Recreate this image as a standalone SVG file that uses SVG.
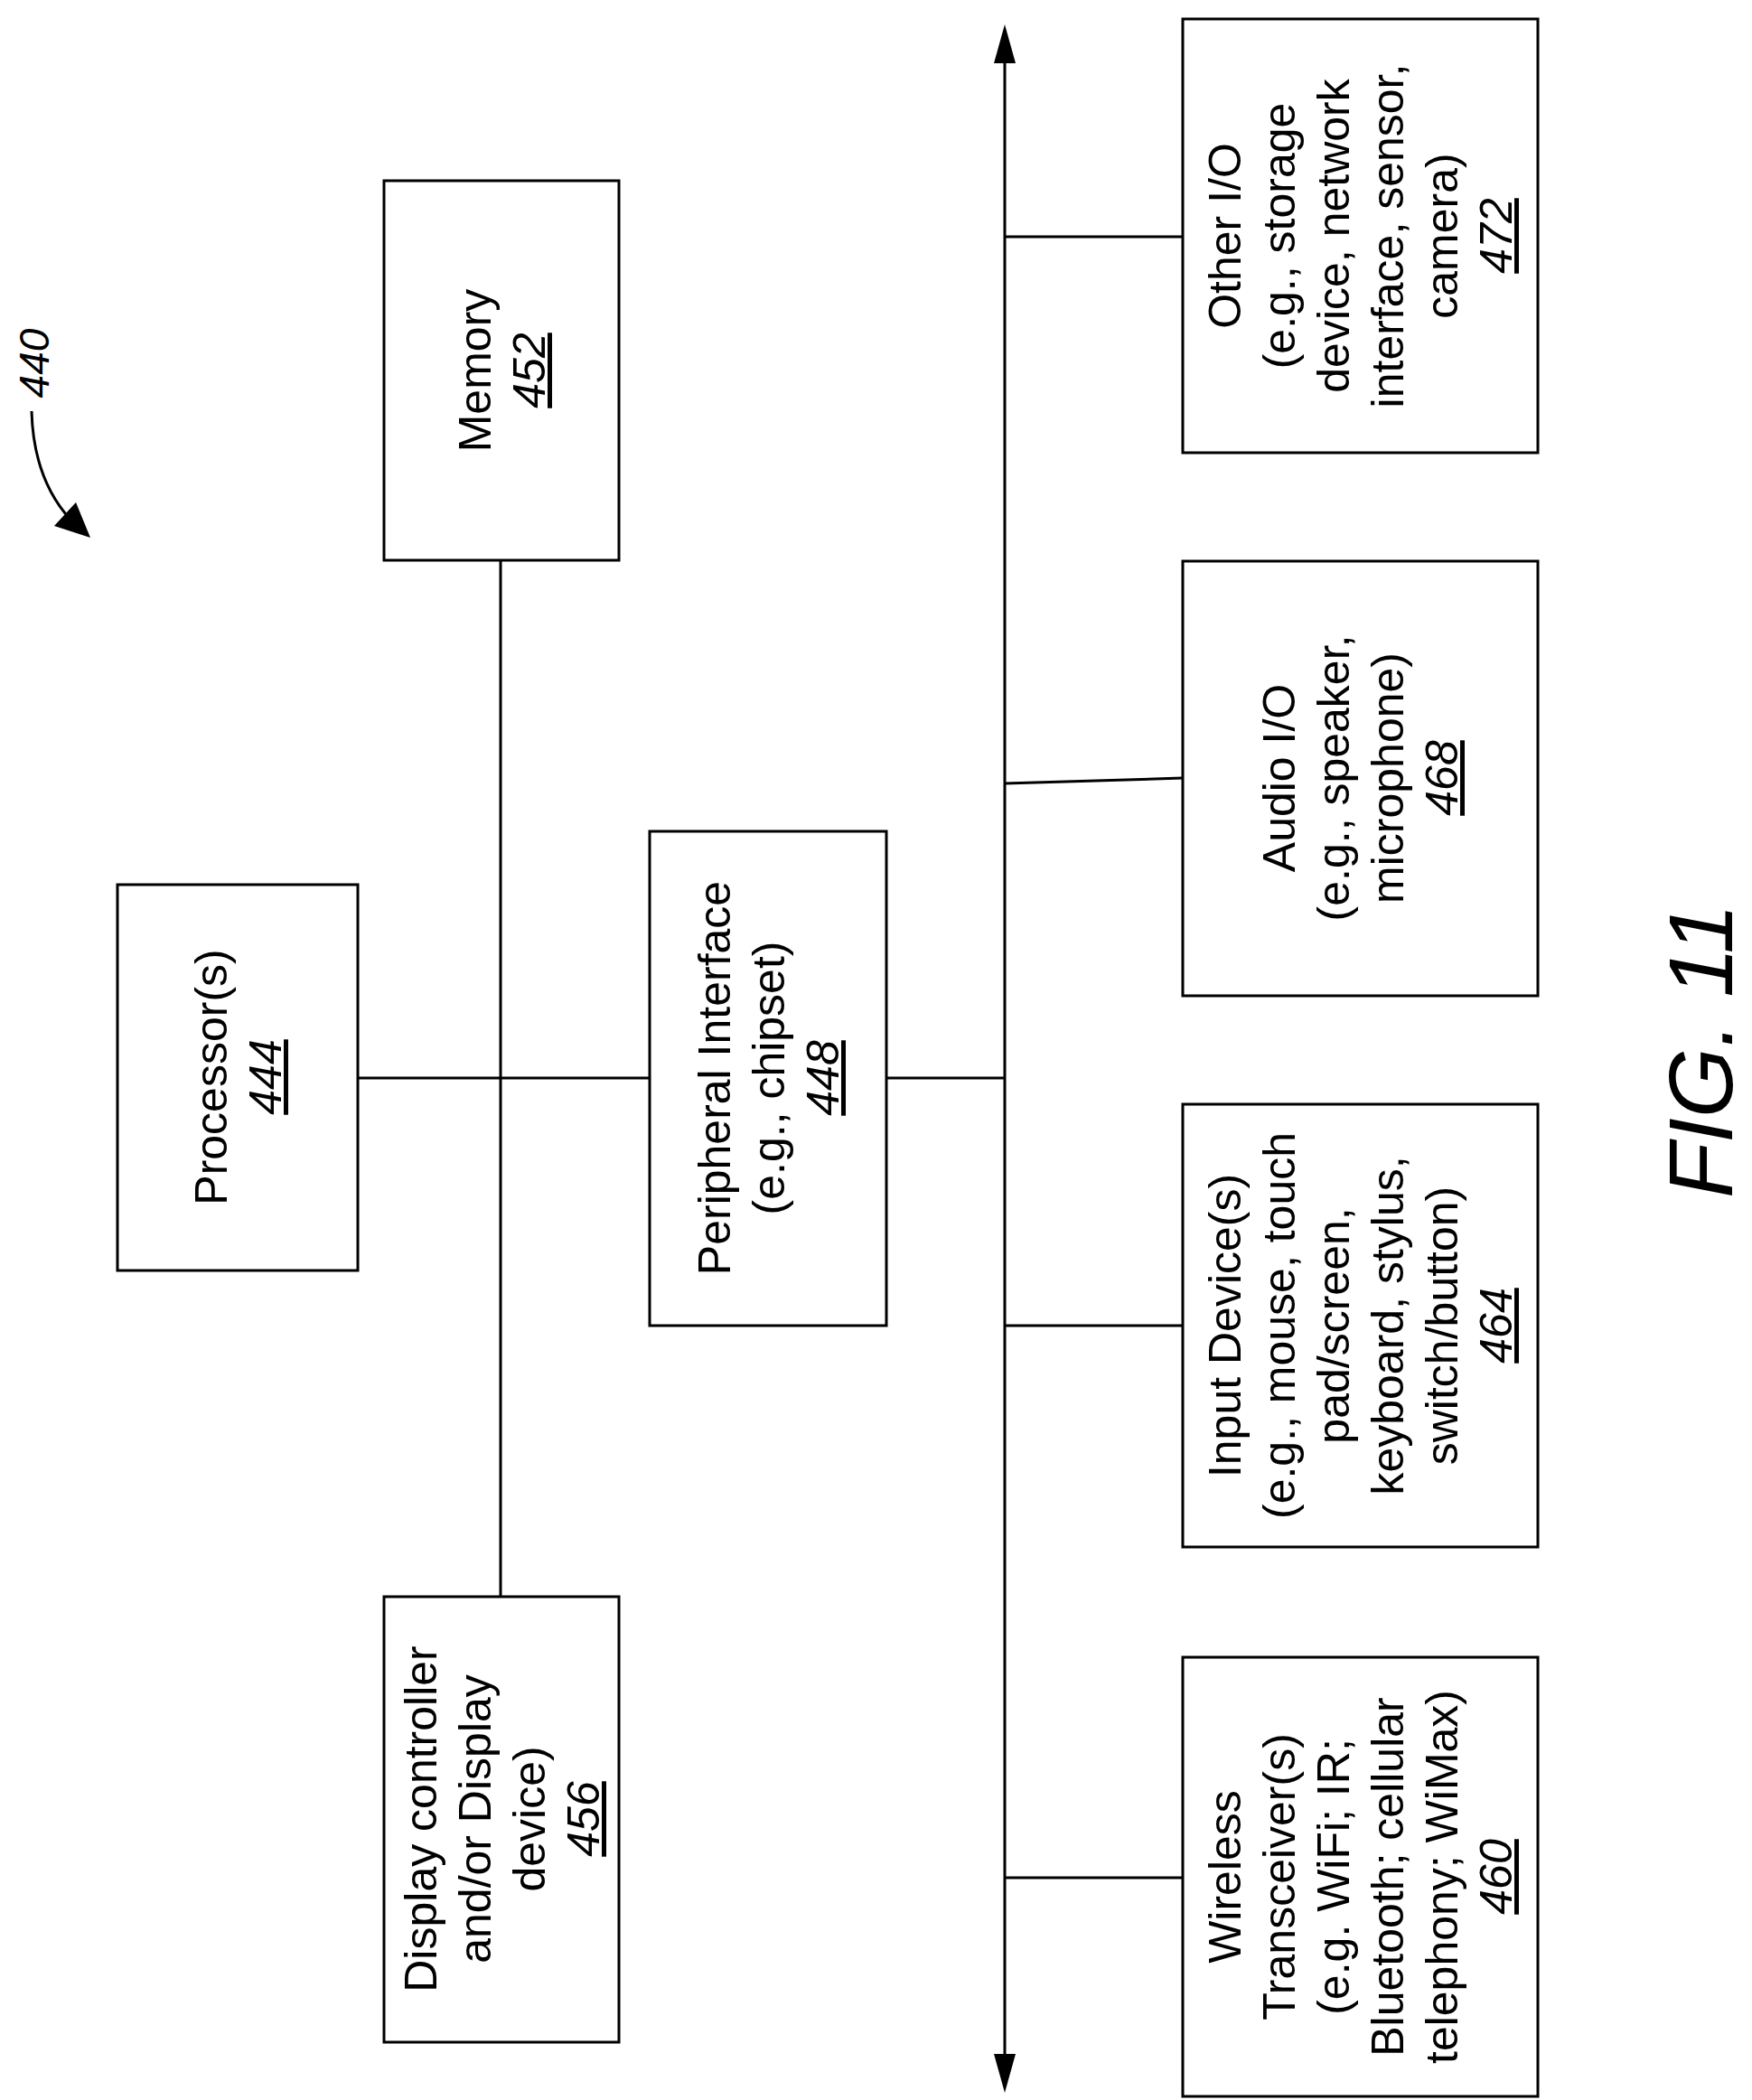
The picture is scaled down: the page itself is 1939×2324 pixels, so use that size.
<svg xmlns="http://www.w3.org/2000/svg" width="1939" height="2324" viewBox="0 0 1939 2324">
<style>
.box{fill:#fff;stroke:#000;stroke-width:3}
.ln{stroke:#000;stroke-width:3;fill:none}
.t{font-family:"Liberation Sans",Arial,sans-serif;font-size:50px;text-anchor:middle;fill:#000}
.n{font-style:italic;text-decoration:underline}
</style>
<rect width="1939" height="2324" fill="#fff"/>
<g id="connectors">
<line class="ln" x1="1112" y1="60" x2="1112" y2="2284"/>
<polygon points="1112,27 1100,70 1124,70" fill="#000"/>
<polygon points="1112,2316 1100,2273 1124,2273" fill="#000"/>
<line class="ln" x1="554" y1="620" x2="554" y2="1767"/>
<line class="ln" x1="396" y1="1193" x2="719" y2="1193"/>
<line class="ln" x1="981" y1="1193" x2="1112" y2="1193"/>
<line class="ln" x1="1112" y1="262" x2="1309" y2="262"/>
<line class="ln" x1="1112" y1="867" x2="1309" y2="861"/>
<line class="ln" x1="1112" y1="1467" x2="1309" y2="1467"/>
<line class="ln" x1="1112" y1="2078" x2="1309" y2="2078"/>
<path class="ln" d="M35,455 Q37,530 78,575"/>
<polygon points="100,595 60,582 84,556" fill="#000"/>
</g>
<g id="label440"><text class="t" style="font-style:italic;font-size:46px" transform="translate(54,402) rotate(-90)">440</text></g>
<g id="memory"><rect class="box" x="425" y="200" width="260" height="420"/>
<text class="t" transform="translate(555,410) rotate(-90)"><tspan x="0" y="-12">Memory</tspan><tspan class="n" x="0" dy="60">452</tspan></text></g>
<g id="processor"><rect class="box" x="130" y="979" width="266" height="427"/>
<text class="t" transform="translate(263,1192) rotate(-90)"><tspan x="0" y="-12">Processor(s)</tspan><tspan class="n" x="0" dy="60">444</tspan></text></g>
<g id="peripheral"><rect class="box" x="719" y="920" width="262" height="547"/>
<text class="t" transform="translate(850,1193) rotate(-90)"><tspan x="0" y="-42">Peripheral Interface</tspan><tspan x="0" dy="60">(e.g., chipset)</tspan><tspan class="n" x="0" dy="60">448</tspan></text></g>
<g id="display"><rect class="box" x="425" y="1767" width="260" height="493"/>
<text class="t" transform="translate(555,2013) rotate(-90)"><tspan x="0" y="-72">Display controller</tspan><tspan x="0" dy="60">and/or Display</tspan><tspan x="0" dy="60">device)</tspan><tspan class="n" x="0" dy="60">456</tspan></text></g>
<g id="other-io"><rect class="box" x="1309" y="21" width="393" height="480"/>
<text class="t" transform="translate(1505,261) rotate(-90)"><tspan x="0" y="-132">Other I/O</tspan><tspan x="0" dy="60">(e.g., storage</tspan><tspan x="0" dy="60">device, network</tspan><tspan x="0" dy="60">interface, sensor,</tspan><tspan x="0" dy="60">camera)</tspan><tspan class="n" x="0" dy="60">472</tspan></text></g>
<g id="audio-io"><rect class="box" x="1309" y="621" width="393" height="481"/>
<text class="t" transform="translate(1505,861) rotate(-90)"><tspan x="0" y="-72">Audio I/O</tspan><tspan x="0" dy="60">(e.g., speaker,</tspan><tspan x="0" dy="60">microphone)</tspan><tspan class="n" x="0" dy="60">468</tspan></text></g>
<g id="input"><rect class="box" x="1309" y="1222" width="393" height="490"/>
<text class="t" transform="translate(1505,1467) rotate(-90)"><tspan x="0" y="-132">Input Device(s)</tspan><tspan x="0" dy="60">(e.g., mouse, touch</tspan><tspan x="0" dy="60">pad/screen,</tspan><tspan x="0" dy="60">keyboard, stylus,</tspan><tspan x="0" dy="60">switch/button)</tspan><tspan class="n" x="0" dy="60">464</tspan></text></g>
<g id="wireless"><rect class="box" x="1309" y="1834" width="393" height="486"/>
<text class="t" transform="translate(1505,2077) rotate(-90)"><tspan x="0" y="-132">Wireless</tspan><tspan x="0" dy="60">Transceiver(s)</tspan><tspan x="0" dy="60">(e.g. WiFi; IR;</tspan><tspan x="0" dy="60">Bluetooth; cellular</tspan><tspan x="0" dy="60">telephony; WiMax)</tspan><tspan class="n" x="0" dy="60">460</tspan></text></g>
<g id="figlabel"><text class="t" style="font-style:italic;font-size:100px" transform="translate(1917,1163) rotate(-90)">FIG. 11</text></g>
</svg>
